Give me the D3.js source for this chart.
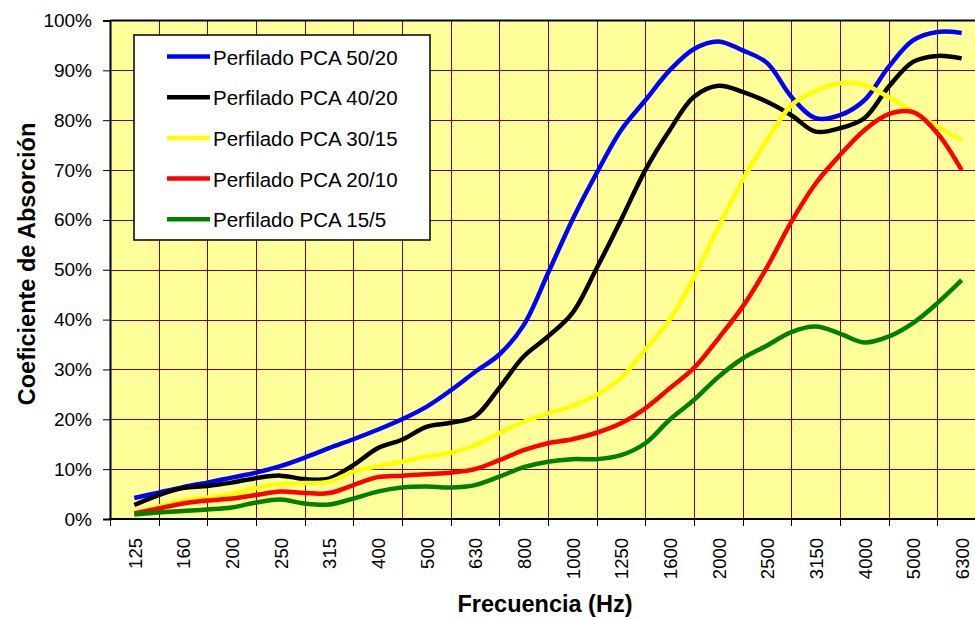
<!DOCTYPE html>
<html>
<head>
<meta charset="utf-8">
<script src="https://cdn.jsdelivr.net/npm/d3@7"></script>
<style>
  body { margin: 0; background: #fff; }
  text { font-family: "Liberation Sans", Arial, sans-serif; }
</style>
</head>
<body>
<div id="chart"></div>
<script>
// category labels on the x axis (1/3 octave bands)
var bandLabels = ['125', '160', '200', '250', '315', '400', '500', '630', '800', '1000',
  '1250', '1600', '2000', '2500', '3150', '4000', '5000', '6300'];
// the curves are read at 1/6 octave steps
var sixthOctave = [125, 140, 160, 180, 200, 224, 250, 280, 315, 355, 400, 450, 500, 560, 630, 710,
  800, 900, 1000, 1120, 1250, 1400, 1600, 1800, 2000, 2240, 2500, 2800, 3150, 3550, 4000, 4500,
  5000, 5600, 6300];
var yTicks = [0, 0.1, 0.2, 0.3, 0.4, 0.5, 0.6, 0.7, 0.8, 0.9, 1];

var seriesNames = ['Perfilado PCA 50/20', 'Perfilado PCA 40/20', 'Perfilado PCA 30/15',
  'Perfilado PCA 20/10', 'Perfilado PCA 15/5'];

// absorption coefficient, %
var pca5020 = [4.2, 5.3, 6.4, 7.3, 8.3, 9.3, 10.6, 12.3, 14.2, 16.0, 17.9, 20.0, 22.5, 25.8, 29.5, 33.0,
  38.9, 49.3, 60.0, 69.4, 78.0, 84.0, 90.0, 94.3, 95.8, 94.0, 91.5, 84.7, 80.4, 81.0, 84.0, 90.7,
  96.0, 97.7, 97.5];
var pca4020 = [2.8, 4.8, 6.2, 6.6, 7.3, 8.2, 8.7, 8.0, 8.1, 10.8, 14.2, 15.9, 18.5, 19.3, 20.6, 26.3,
  32.6, 36.6, 41.3, 50.3, 60.0, 70.0, 78.0, 84.7, 86.9, 85.7, 83.7, 81.0, 77.7, 78.4, 80.4, 86.7,
  91.7, 92.9, 92.4];
var pca3015 = [1.2, 2.5, 3.7, 4.3, 5.0, 6.2, 7.0, 7.2, 7.5, 9.5, 10.6, 11.5, 12.5, 13.3, 14.8, 17.2,
  19.5, 21.2, 22.7, 24.9, 28.3, 34.0, 40.0, 48.5, 58.5, 68.0, 76.0, 83.0, 85.9, 87.4, 87.1, 84.6,
  81.7, 78.7, 76.0];
var pca2010 = [1.1, 2.1, 3.1, 3.7, 4.1, 4.8, 5.5, 5.2, 5.2, 6.8, 8.4, 8.7, 9.0, 9.3, 10.0, 11.8,
  13.8, 15.2, 16.0, 17.3, 19.2, 22.2, 26.2, 30.3, 36.2, 42.6, 50.5, 59.6, 67.3, 73.0, 78.0, 81.2,
  81.6, 77.4, 70.0];
var pca155 = [0.9, 1.3, 1.6, 1.9, 2.3, 3.3, 3.9, 3.1, 2.9, 4.1, 5.5, 6.3, 6.5, 6.3, 6.8, 8.5,
  10.4, 11.5, 12.0, 12.0, 12.8, 15.2, 19.9, 23.9, 28.5, 32.2, 34.8, 37.5, 38.6, 37.2, 35.4, 36.6,
  39.3, 43.3, 47.9];

var seriesColors = ['#0000ff', '#000000', '#ffff00', '#ff0000', '#008000'];
var series = [pca5020, pca4020, pca3015, pca2010, pca155];

var width = 975;
var height = 619;
var plotL = 110, plotR = 986, plotT = 20.5, plotB = 519;

var svg = d3.select('#chart')
  .append('svg')
  .attr('width', width)
  .attr('height', height);

var x = d3.scaleBand().domain(bandLabels).range([plotL, plotR]);
var half = x.bandwidth() / 2;
var xp = d3.scalePoint()
  .domain(sixthOctave)
  .range([x(bandLabels[0]) + half, x(bandLabels[bandLabels.length - 1]) + half]);
var y = d3.scaleLinear().domain([0, 1]).range([plotB, plotT]);

// plot background
svg.append('rect')
  .attr('x', plotL).attr('y', plotT)
  .attr('width', plotR - plotL).attr('height', plotB - plotT)
  .attr('fill', '#ffff99');

// grid
svg.append('g').selectAll('line')
  .data(yTicks.slice(1, -1))
  .enter().append('line')
  .attr('x1', plotL).attr('x2', plotR)
  .attr('y1', function (d) { return Math.round(y(d)) + 0.5; })
  .attr('y2', function (d) { return Math.round(y(d)) + 0.5; })
  .attr('stroke', '#800000').attr('stroke-width', 1);

var bounds = bandLabels.map(function (d) { return x(d); }).concat([plotR]);
svg.append('g').selectAll('line')
  .data(bounds.slice(1))
  .enter().append('line')
  .attr('x1', function (d) { return Math.round(d) + 0.5; })
  .attr('x2', function (d) { return Math.round(d) + 0.5; })
  .attr('y1', plotT).attr('y2', plotB)
  .attr('stroke', '#800000').attr('stroke-width', 1);

// top border
svg.append('line')
  .attr('x1', plotL).attr('x2', plotR)
  .attr('y1', plotT).attr('y2', plotT)
  .attr('stroke', '#000').attr('stroke-width', 2);

// y axis
var yAxis = svg.append('g')
  .attr('transform', 'translate(' + plotL + ',0)')
  .call(d3.axisLeft(y).tickValues(yTicks).tickFormat(d3.format('.0%')).tickSize(7).tickPadding(11));
yAxis.select('.domain').attr('stroke', '#000').attr('stroke-width', 2);
yAxis.selectAll('.tick line').attr('stroke', '#000');
yAxis.selectAll('.tick text')
  .attr('font-family', '"Liberation Sans", Arial, sans-serif')
  .attr('font-size', 19).attr('fill', '#000');

// x axis
svg.append('line')
  .attr('x1', plotL - 1).attr('x2', plotR)
  .attr('y1', plotB).attr('y2', plotB)
  .attr('stroke', '#000').attr('stroke-width', 2);
svg.append('g').selectAll('line')
  .data(bounds)
  .enter().append('line')
  .attr('x1', function (d) { return Math.round(d) + 0.5; })
  .attr('x2', function (d) { return Math.round(d) + 0.5; })
  .attr('y1', plotB).attr('y2', plotB + 7)
  .attr('stroke', '#000');
svg.append('g').selectAll('text')
  .data(bandLabels)
  .enter().append('text')
  .attr('transform', function (d) { return 'translate(' + (x(d) + half + 1) + ',538) rotate(-90)'; })
  .attr('text-anchor', 'end')
  .attr('dy', '0.35em')
  .attr('font-size', 18.5)
  .text(function (d) { return d; });

// curves
var line = d3.line()
  .x(function (d, i) { return xp(sixthOctave[i]); })
  .y(function (d) { return y(d / 100); })
  .curve(d3.curveCatmullRom.alpha(0.5));

svg.append('g').selectAll('path')
  .data(series)
  .enter().append('path')
  .attr('d', line)
  .attr('fill', 'none')
  .attr('stroke', function (d, i) { return seriesColors[i]; })
  .attr('stroke-width', 4.5)
  .attr('stroke-linejoin', 'round');

// legend
var legend = svg.append('g');
legend.append('rect')
  .attr('x', 134).attr('y', 35)
  .attr('width', 296).attr('height', 205)
  .attr('fill', '#fff').attr('stroke', '#000').attr('stroke-width', 1.5);
var rows = legend.selectAll('g.row')
  .data(seriesNames)
  .enter().append('g')
  .attr('class', 'row')
  .attr('transform', function (d, i) { return 'translate(0,' + (56.5 + i * 40.7) + ')'; });
rows.append('line')
  .attr('x1', 167).attr('x2', 210)
  .attr('stroke', function (d, i) { return seriesColors[i]; })
  .attr('stroke-width', 4.5);
rows.append('text')
  .attr('x', 213).attr('y', 8)
  .attr('font-size', 20.5)
  .attr('fill', '#000')
  .text(function (d) { return d; });

// axis titles
svg.append('text')
  .attr('transform', 'translate(35,264) rotate(-90)')
  .attr('text-anchor', 'middle')
  .attr('font-size', 23.5).attr('font-weight', 'bold')
  .text('Coeficiente de Absorción');
svg.append('text')
  .attr('x', 545).attr('y', 612)
  .attr('text-anchor', 'middle')
  .attr('font-size', 23.5).attr('font-weight', 'bold')
  .text('Frecuencia (Hz)');
</script>
</body>
</html>
